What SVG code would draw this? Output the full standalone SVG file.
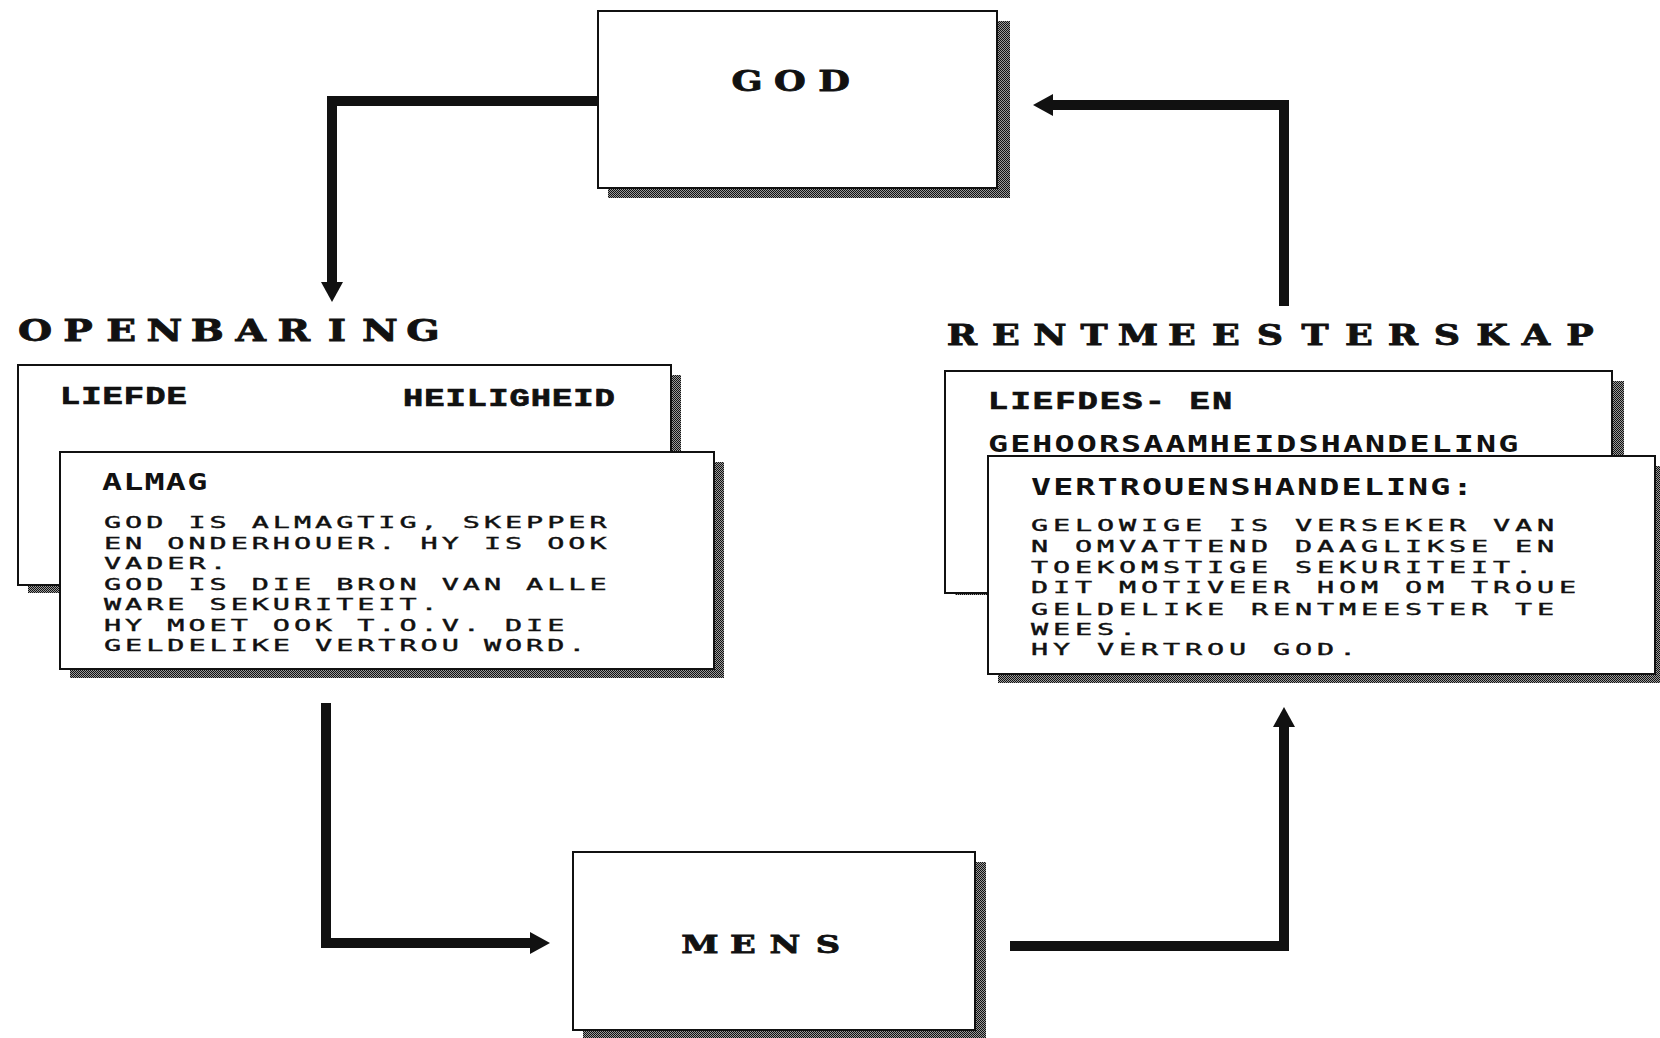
<svg xmlns="http://www.w3.org/2000/svg" width="1660" height="1038" viewBox="0 0 1660 1038">
<defs>
<pattern id="dither" width="2" height="2" patternUnits="userSpaceOnUse">
<rect width="2" height="2" fill="#9a9a9a"/>
<rect x="0" y="0" width="1" height="1" fill="#111"/>
<rect x="1" y="1" width="1" height="1" fill="#111"/>
</pattern>
<marker id="arrow" viewBox="0 0 20 22" refX="0" refY="11" markerWidth="20" markerHeight="22" markerUnits="userSpaceOnUse" orient="auto">
<path d="M0,0 L20,11 L0,22 Z" fill="#111"/>
</marker>
</defs>
<style>
.box{fill:#fff;stroke:#111;stroke-width:2}
.shadow{fill:url(#dither)}
.conn{fill:none;stroke:#111;stroke-width:10;stroke-linejoin:miter;stroke-linecap:butt}
.title{font-family:"DejaVu Serif","Liberation Serif",serif;font-weight:bold;text-anchor:middle;fill:#111;stroke:#111;stroke-width:0.8}
.hdrs{font-family:"Liberation Mono","DejaVu Sans Mono",monospace;font-weight:bold;font-size:26px;fill:#111;stroke:#111;stroke-width:0.7}
.hdr{font-family:"DejaVu Sans Mono","Liberation Mono",monospace;font-weight:bold;font-size:23px;fill:#111}
.body{font-family:"DejaVu Sans Mono","Liberation Mono",monospace;font-size:15px;fill:#111;stroke:#111;stroke-width:0.35}
</style>
<rect width="1660" height="1038" fill="#fff"/>

<g id="connectors">
<path class="conn" d="M598,101 H332 V282" marker-end="url(#arrow)"/>
<path class="conn" d="M326,703 V943 H530" marker-end="url(#arrow)"/>
<path class="conn" d="M1010,946 H1284 V727" marker-end="url(#arrow)"/>
<path class="conn" d="M1284,306 V105 H1053" marker-end="url(#arrow)"/>
</g>

<g id="god">
<rect class="shadow" x="608" y="21" width="402" height="177"/>
<rect class="box" x="598" y="11" width="399" height="177"/>
<text class="title" font-size="27" transform="scale(1.35,1)" x="553.33 585.19 617.78" y="91">GOD</text>
</g>

<g id="openbaring">
<text class="title" font-size="29" transform="scale(1.35,1)" x="25.93 57.85 89.78 121.7 153.63 185.63 217.56 249.48 281.41 313.33" y="341">OPENBARING</text>
<g id="openbaring-liefde">
<rect class="shadow" x="28" y="375" width="653" height="218"/>
<rect class="box" x="18" y="365" width="653" height="220"/>
<g transform="translate(60,0) scale(1.3,1)">
<text class="hdrs" x="0" y="404" letter-spacing="0.78">LIEFDE</text>
</g>
<g transform="translate(403,0) scale(1.3,1)">
<text class="hdrs" x="0" y="406" letter-spacing="0.78">HEILIGHEID</text>
</g>
</g>
<g id="openbaring-almag">
<rect class="shadow" x="70" y="462" width="654" height="216"/>
<rect class="box" x="60" y="452" width="654" height="217"/>
<g transform="translate(102,0) scale(1.45,1)">
<text class="hdr" x="0" y="490" letter-spacing="0.84">ALMAG</text>
</g>
<g transform="translate(104,0) scale(1.9,1)">
<text class="body" x="0" y="528" letter-spacing="2.08">GOD IS ALMAGTIG, SKEPPER</text>
<text class="body" x="0" y="549" letter-spacing="2.08">EN ONDERHOUER. HY IS OOK</text>
<text class="body" x="0" y="569" letter-spacing="2.08">VADER.</text>
<text class="body" x="0" y="590" letter-spacing="2.08">GOD IS DIE BRON VAN ALLE</text>
<text class="body" x="0" y="610" letter-spacing="2.08">WARE SEKURITEIT.</text>
<text class="body" x="0" y="631" letter-spacing="2.08">HY MOET OOK T.O.V. DIE</text>
<text class="body" x="0" y="651" letter-spacing="2.08">GELDELIKE VERTROU WORD.</text>
</g>
</g>
</g>

<g id="rentmeesterskap">
<text class="title" font-size="27" transform="scale(1.35,1)" x="712.59 745.19 777.78 810.37 842.96 875.56 908.15 940.74 974.07 1006.67 1039.26 1071.85 1105.19 1137.78 1170.37" y="345">RENTMEESTERSKAP</text>
<g id="rentmeesterskap-gehoorsaamheid">
<rect class="shadow" x="955" y="381" width="669" height="214"/>
<rect class="box" x="945" y="371" width="667" height="222"/>
<g transform="translate(988,0) scale(1.3,1)">
<text class="hdrs" x="0" y="409" letter-spacing="1.63">LIEFDES- EN</text>
</g>
<g transform="translate(988,0) scale(1.45,1)">
<text class="hdr" x="0" y="452" letter-spacing="1.46">GEHOORSAAMHEIDSHANDELING</text>
</g>
</g>
<g id="rentmeesterskap-vertroue">
<rect class="shadow" x="998" y="466" width="667" height="217"/>
<rect class="box" x="988" y="456" width="667" height="218"/>
<g transform="translate(1031,0) scale(1.45,1)">
<text class="hdr" x="0" y="495" letter-spacing="1.46">VERTROUENSHANDELING:</text>
</g>
<g transform="translate(1031,0) scale(1.9,1)">
<text class="body" x="0" y="531" letter-spacing="2.55">GELOWIGE IS VERSEKER VAN</text>
<text class="body" x="0" y="552" letter-spacing="2.55">N OMVATTEND DAAGLIKSE EN</text>
<text class="body" x="0" y="573" letter-spacing="2.55">TOEKOMSTIGE SEKURITEIT.</text>
<text class="body" x="0" y="593" letter-spacing="2.55">DIT MOTIVEER HOM OM TROUE</text>
<text class="body" x="0" y="615" letter-spacing="2.55">GELDELIKE RENTMEESTER TE</text>
<text class="body" x="0" y="635" letter-spacing="2.55">WEES.</text>
<text class="body" x="0" y="655" letter-spacing="2.55">HY VERTROU GOD.</text>
</g>
</g>
</g>

<g id="mens">
<rect class="shadow" x="583" y="862" width="403" height="180"/>
<rect class="box" x="573" y="852" width="402" height="178"/>
<text class="title" font-size="25" transform="scale(1.35,1)" x="518.52 550.37 581.48 613.33" y="953">MENS</text>
</g>
</svg>
